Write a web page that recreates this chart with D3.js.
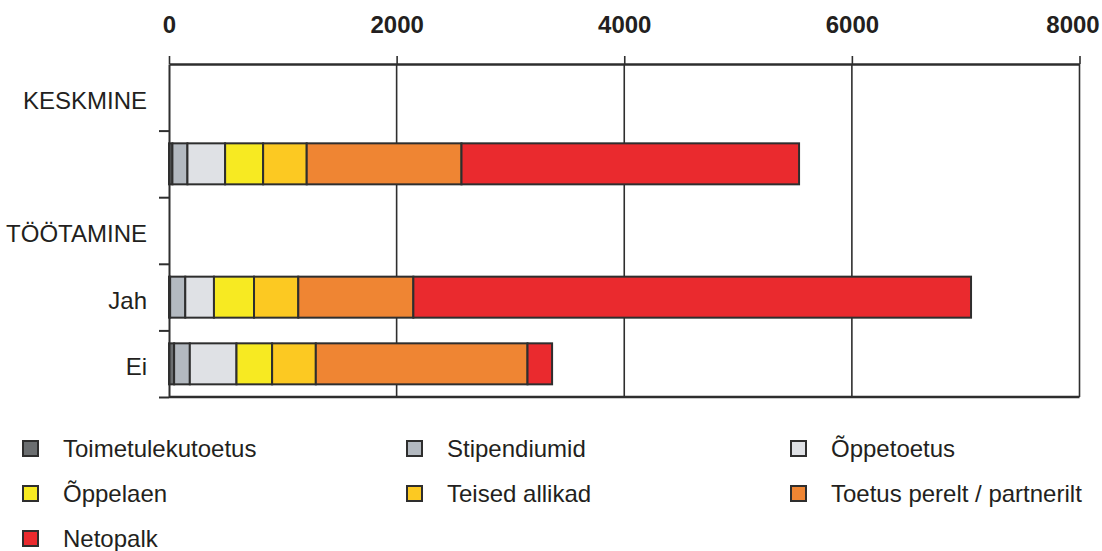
<!DOCTYPE html>
<html>
<head>
<meta charset="utf-8">
<script src="https://cdn.jsdelivr.net/npm/d3@7"></script>
<style>
  html, body { margin: 0; padding: 0; background: #fff; }
  svg { display: block; }
  text { font-family: "Liberation Sans", Arial, sans-serif; fill: #231f20; }
</style>
</head>
<body>
<svg id="chart" width="1102" height="551"></svg>
<script>
// ---- data ----
const rows = ["KESKMINE", "keskmine", "TÖÖTAMINE", "Jah", "Ei"];
const rowLabels = ["KESKMINE", "", "TÖÖTAMINE", "Jah", "Ei"];
const seriesNames = ["Toimetulekutoetus", "Stipendiumid", "Õppetoetus", "Õppelaen", "Teised allikad", "Toetus perelt / partnerilt", "Netopalk"];
const seriesColors = ["#6b6e70", "#b3b9c0", "#dfe1e5", "#f7ea22", "#fcc922", "#ef8533", "#ea2a2e"];
// values per row (null = header row without bar)
const toimetulekutoetus = [null, 30, null, 10, 45];
const stipendiumid      = [null, 132, null, 133, 138];
const oppetoetus        = [null, 331, null, 252, 410];
const oppelaen          = [null, 334, null, 352, 313];
const teisedAllikad     = [null, 383, null, 389, 384];
const toetusPerelt      = [null, 1360, null, 1011, 1860];
const netopalk          = [null, 2966, null, 4900, 216];
const xTicks = [0, 2000, 4000, 6000, 8000];

const seriesValues = [toimetulekutoetus, stipendiumid, oppetoetus, oppelaen, teisedAllikad, toetusPerelt, netopalk];

// ---- layout ----
const svg = d3.select("#chart");
const mLeft = 169, mRight = 1079.5, mTop = 64, mBottom = 397;
const ink = "#2e2e2e";

const x = d3.scaleLinear().domain([0, 8000]).range([mLeft, mRight]);
const y = d3.scaleBand().domain(rows).range([mTop, mBottom]).paddingInner(0.385).paddingOuter(0.19);
const yEdge = d3.scaleLinear().domain([0, rows.length]).range([mTop, mBottom]);

// stacked data
const table = rows.map((r, i) => {
  const o = { row: r };
  seriesNames.forEach((s, j) => { o[s] = seriesValues[j][i]; });
  return o;
}).filter(d => d[seriesNames[0]] !== null);
const stack = d3.stack().keys(seriesNames)(table);

// grid lines
svg.append("g").selectAll("line")
  .data(xTicks.filter(t => t > 0))
  .join("line")
  .attr("x1", d => x(d)).attr("x2", d => x(d))
  .attr("y1", mTop).attr("y2", mBottom)
  .attr("stroke", ink).attr("stroke-width", 1.6);

// bottom line
svg.append("line")
  .attr("x1", mLeft).attr("x2", mRight)
  .attr("y1", mBottom).attr("y2", mBottom)
  .attr("stroke", ink).attr("stroke-width", 2.4);

// bars
svg.append("g").selectAll("g")
  .data(stack)
  .join("g")
  .attr("fill", (d, i) => seriesColors[i])
  .selectAll("rect")
  .data(d => d)
  .join("rect")
  .attr("x", d => x(d[0]))
  .attr("width", d => x(d[1]) - x(d[0]))
  .attr("y", d => y(d.data.row))
  .attr("height", y.bandwidth())
  .attr("stroke", ink)
  .attr("stroke-width", 2);

// top axis
const xAxis = svg.append("g")
  .attr("transform", `translate(0,${mTop})`)
  .call(d3.axisTop(x).tickValues(xTicks).tickFormat(d3.format("d")).tickSize(8).tickPadding(23).tickSizeOuter(0));
xAxis.select(".domain").attr("stroke", ink).attr("stroke-width", 2.4);
xAxis.selectAll(".tick line").attr("stroke", ink).attr("stroke-width", 1.6);
xAxis.selectAll(".tick text")
  .style("font-family", "'Liberation Sans', Arial, sans-serif")
  .style("font-weight", "bold")
  .style("font-size", "24px")
  .attr("fill", "#111")
  .attr("dx", (d, i) => i === xTicks.length - 1 ? -7 : 0);

// left axis with ticks at row boundaries
const yAxis = svg.append("g")
  .attr("transform", `translate(${mLeft},0)`)
  .call(d3.axisLeft(yEdge).tickValues(d3.range(1, rows.length + 1)).tickSize(10).tickFormat("").tickSizeOuter(0));
yAxis.select(".domain").attr("stroke", ink).attr("stroke-width", 2);
yAxis.selectAll(".tick line").attr("stroke", ink).attr("stroke-width", 2);

// row labels
svg.append("g").selectAll("text")
  .data(rows)
  .join("text")
  .attr("x", mLeft - 22)
  .attr("y", d => y(d) + y.bandwidth() / 2 + 3)
  .attr("dy", "0.36em")
  .attr("text-anchor", "end")
  .style("font-size", "24px")
  .text((d, i) => rowLabels[i]);

// legend
const legCols = [22, 406, 790];
const legRows = [457, 502, 547];
const legend = svg.append("g").selectAll("g")
  .data(seriesNames)
  .join("g")
  .attr("transform", (d, i) => `translate(${legCols[i % 3]},${legRows[Math.floor(i / 3)]})`);
legend.append("rect")
  .attr("x", 1).attr("y", -16)
  .attr("width", 15).attr("height", 15)
  .attr("fill", (d, i) => seriesColors[i])
  .attr("stroke", ink).attr("stroke-width", 2);
legend.append("text")
  .attr("x", 41).attr("y", 0)
  .style("font-size", "24px")
  .text(d => d);
</script>
</body>
</html>
